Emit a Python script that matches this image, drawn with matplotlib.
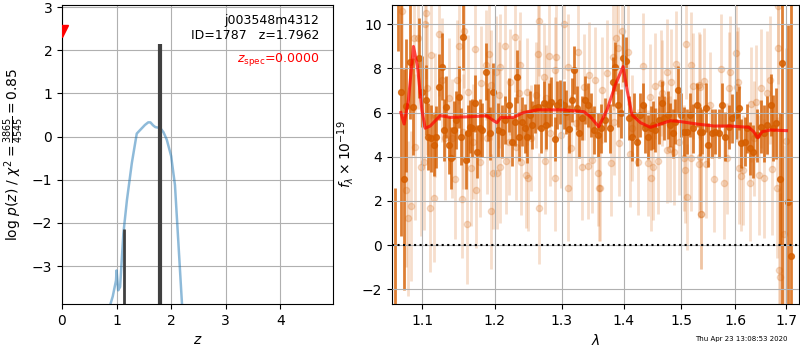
import matplotlib
matplotlib.use("Agg")
import matplotlib.pyplot as plt
from matplotlib.ticker import FixedLocator, FixedFormatter, NullLocator

# ---- left panel: p(z) ----
pz_z = [0.89, 0.93, 0.99, 1.00, 1.03, 1.065, 1.125, 1.19, 1.28, 1.37, 1.43, 1.52, 1.58,
        1.62, 1.67, 1.71, 1.80, 1.86, 1.92, 2.00, 2.07, 2.13, 2.20]
pz_logp = [-3.87, -3.70, -3.33, -3.10, -3.56, -3.48, -2.24, -1.47, -0.61, 0.07, 0.15, 0.27, 0.33,
           0.33, 0.26, 0.22, 0.20, 0.10, -0.07, -0.45, -1.12, -2.40, -3.90]
peak_z = [1.13, 1.79]
peak_logp = [-2.15, 2.15]
zspec = 0.0
zspec_mark = 2.45

# ---- right panel: spectrum ----
# dark (high S/N) points: wavelength [um], flux, error
dk_wave = [1.0646, 1.0688, 1.0730, 1.0762, 1.0795, 1.0847, 1.0878, 1.0956, 1.1000, 1.1044,
           1.1079, 1.1123, 1.1155, 1.1189, 1.1230, 1.1265, 1.1296, 1.1322, 1.1356, 1.1391,
           1.1423, 1.1454, 1.1490, 1.1526, 1.1557, 1.1589, 1.1616, 1.1647, 1.1680, 1.1717,
           1.1744, 1.1785, 1.1822, 1.1868, 1.1901, 1.1933, 1.1971, 1.2044, 1.2100, 1.2150,
           1.2198, 1.2247, 1.2286, 1.2321, 1.2355, 1.2394, 1.2433, 1.2470, 1.2509, 1.2545,
           1.2584, 1.2633, 1.2674, 1.2721, 1.2761, 1.2796, 1.2838, 1.2889, 1.2930, 1.2977,
           1.3028, 1.3072, 1.3117, 1.3159, 1.3190, 1.3231, 1.3273, 1.3319, 1.3362, 1.3417,
           1.3464, 1.3516, 1.3575, 1.3625, 1.3691, 1.3772, 1.3817, 1.3855, 1.3898, 1.3954,
           1.3991, 1.4030, 1.4090, 1.4135, 1.4179, 1.4219, 1.4278, 1.4324, 1.4365, 1.4408,
           1.4464, 1.4502, 1.4542, 1.4605, 1.4650, 1.4698, 1.4758, 1.4798, 1.4841, 1.4888,
           1.4937, 1.4997, 1.5054, 1.5096, 1.5159, 1.5218, 1.5279, 1.5340, 1.5377, 1.5439,
           1.5481, 1.5562, 1.5623, 1.5686, 1.5737, 1.5812, 1.5877, 1.5940, 1.6003, 1.6066,
           1.6114, 1.6177, 1.6228, 1.6280, 1.6346, 1.6425, 1.6490, 1.6555, 1.6609, 1.6688,
           1.6742, 1.6793, 1.6873, 1.6915, 1.7035, 1.7103]
dk_flux = [-3.0, 11.8, 6.92, 2.99, 6.31, 8.30, 6.27, 8.46, 6.95, 6.57,
           4.91, 4.83, 4.53, 4.91, 7.17, 8.08, 5.21, 6.27, 4.53, 3.93,
           5.21, 5.66, 6.72, 4.91, 9.44, 3.85, 5.06, 5.36, 5.29, 6.42,
           4.23, 5.29, 5.21, 7.85, 5.89, 5.06, 6.95, 5.21, 5.14, 5.66,
           6.34, 4.68, 5.59, 7.63, 4.91, 5.59, 5.29, 4.91, 5.89, 5.44,
           6.19, 6.27, 5.29, 6.42, 5.44, 6.34, 6.49, 4.80, 6.34, 6.49,
           6.34, 6.04, 5.26, 6.57, 7.93, 6.19, 5.06, 5.74, 6.57, 6.34,
           5.89, 5.21, 4.98, 5.29, 5.66, 5.29, 7.40, 8.08, 6.34, 5.97,
           8.46, 8.31, 5.74, 4.91, 5.89, 4.68, 5.89, 6.34, 5.29, 4.91,
           5.29, 5.44, 5.21, 5.66, 6.42, 5.74, 5.89, 5.44, 5.06, 5.59,
           7.02, 5.89, 5.14, 5.14, 5.89, 5.29, 6.34, 5.14, 5.14, 6.22,
           4.53, 5.06, 5.14, 5.06, 6.34, 4.91, 5.36, 5.74, 5.89, 6.22,
           4.61, 4.68, 5.29, 4.38, 4.23, 4.98, 5.36, 5.06, 5.44, 6.34,
           5.29, 5.51, 2.99, 8.23, 1.96, -0.48]
dk_err = [5.6, 3.0, 6.5, 5.0, 3.0, 2.6, 2.2, 1.8, 1.6, 1.6,
          1.5, 1.5, 1.4, 1.4, 1.5, 1.5, 1.4, 1.4, 1.3, 1.4,
          1.3, 1.3, 1.4, 1.3, 1.5, 1.3, 1.3, 1.2, 1.3, 1.3,
          1.2, 1.3, 1.2, 1.3, 1.2, 1.2, 1.3, 1.2, 1.2, 1.1,
          1.2, 1.1, 1.1, 1.2, 1.1, 1.1, 1.1, 1.2, 1.1, 1.1,
          1.1, 1.0, 1.1, 1.0, 1.1, 1.0, 1.1, 1.0, 1.1, 1.0,
          1.1, 1.0, 1.1, 1.0, 1.1, 1.0, 1.1, 1.0, 1.1, 1.0,
          1.0, 1.1, 1.0, 1.1, 1.0, 1.1, 1.1, 1.1, 1.0, 1.1,
          1.1, 1.1, 1.0, 1.1, 1.0, 1.1, 1.0, 1.0, 1.1, 1.0,
          1.0, 1.1, 1.0, 1.1, 1.0, 1.0, 1.1, 1.0, 1.1, 1.0,
          1.1, 1.0, 1.1, 1.0, 1.0, 1.1, 1.0, 1.1, 1.0, 1.1,
          1.0, 1.1, 1.0, 1.1, 1.0, 1.1, 1.0, 1.1, 1.1, 1.0,
          1.1, 1.1, 1.1, 1.2, 1.2, 1.2, 1.2, 1.3, 1.3, 1.4,
          1.5, 1.6, 3.0, 11.0, 8.0, 12.0]

# faint (low S/N) points
lt_wave = [1.0740, 1.0791, 1.0817, 1.0860, 1.0891, 1.0912, 1.0947, 1.0991, 1.1022, 1.1035,
           1.1044, 1.1066, 1.1110, 1.1123, 1.1155, 1.1176, 1.1221, 1.1265, 1.1310, 1.1363,
           1.1400, 1.1436, 1.1468, 1.1499, 1.1543, 1.1557, 1.1570, 1.1605, 1.1626, 1.1659,
           1.1694, 1.1722, 1.1736, 1.1785, 1.1800, 1.1868, 1.1892, 1.1910, 1.1937, 1.1947,
           1.1971, 1.2019, 1.2029, 1.2052, 1.2072, 1.2077, 1.2150, 1.2155, 1.2197, 1.2223,
           1.2296, 1.2300, 1.2344, 1.2370, 1.2384, 1.2455, 1.2470, 1.2480, 1.2535, 1.2605,
           1.2633, 1.2644, 1.2654, 1.2721, 1.2746, 1.2756, 1.2796, 1.2823, 1.2889, 1.2900,
           1.2910, 1.2992, 1.3028, 1.3092, 1.3100, 1.3148, 1.3219, 1.3262, 1.3319, 1.3346,
           1.3417, 1.3427, 1.3481, 1.3532, 1.3581, 1.3586, 1.3608, 1.3646, 1.3717, 1.3789,
           1.3827, 1.3830, 1.3866, 1.3907, 1.3915, 1.3976, 1.4069, 1.4109, 1.4135, 1.4236,
           1.4334, 1.4408, 1.4450, 1.4464, 1.4502, 1.4542, 1.4590, 1.4641, 1.4650, 1.4735,
           1.4740, 1.4798, 1.4816, 1.4876, 1.4897, 1.4949, 1.5054, 1.5060, 1.5077, 1.5096,
           1.5175, 1.5180, 1.5218, 1.5310, 1.5322, 1.5340, 1.5346, 1.5352, 1.5358, 1.5420,
           1.5457, 1.5531, 1.5593, 1.5731, 1.5781, 1.5846, 1.5877, 1.5895, 1.6003, 1.6035,
           1.6046, 1.6066, 1.6114, 1.6152, 1.6280, 1.6293, 1.6358, 1.6391, 1.6457, 1.6490,
           1.6555, 1.6609, 1.6674, 1.6721, 1.6825, 1.6832, 1.6840, 1.6853, 1.6873, 1.6968,
           1.7009]
lt_flux = [10.6, 2.49, 1.21, 1.77, 9.36, 4.45, 9.36, 3.52, 3.77, 10.0,
           10.5, 7.10, 1.69, 8.61, 2.14, 5.89, 9.55, 7.48, 4.83, 6.65,
           4.83, 2.99, 7.48, 8.99, 2.11, 5.14, 9.70, 0.95, 6.92, 3.47,
           4.68, 8.88, 2.49, 3.77, 7.32, 8.16, 4.83, 8.64, 1.54, 7.25,
           3.25, 7.85, 3.25, 6.80, 3.52, 8.08, 9.02, 3.82, 4.68, 7.37,
           9.41, 4.45, 6.87, 8.16, 3.77, 3.17, 6.95, 3.02, 4.83, 6.80,
           8.64, 1.66, 10.15, 7.63, 3.82, 6.65, 8.58, 5.06, 3.06, 7.93,
           8.50, 4.98, 10.01, 8.08, 2.60, 4.38, 5.51, 8.76, 3.52, 7.17,
           3.59, 7.70, 3.85, 7.48, 3.25, 2.57, 2.57, 7.02, 7.78, 3.73,
           8.53, 5.59, 9.36, 8.91, 4.61, 9.67, 8.76, 4.11, 5.29, 3.77,
           8.11, 3.70, 6.72, 3.02, 3.52, 7.22, 3.80, 7.32, 6.87, 7.85,
           4.30, 4.35, 7.37, 4.23, 8.19, 4.68, 3.93, 3.40, 9.11, 2.16,
           8.16, 3.96, 7.21, 7.25, 3.65, 4.00, 7.17, 1.43, 1.43, 7.43,
           3.65, 6.34, 2.99, 7.96, 2.79, 3.93, 7.13, 7.85, 8.68, 7.17,
           7.37, 3.47, 3.14, 3.40, 2.79, 6.37, 4.83, 6.46, 3.17, 7.10,
           3.02, 6.87, 7.48, 3.44, 2.60, 10.8, 8.91, -1.13, -1.44, 0.51,
           4.71]
lt_err = [3.6, 3.5, 3.5, 3.4, 3.3, 3.3, 3.2, 3.1, 3.1, 3.0,
          3.0, 3.0, 2.9, 2.9, 2.9, 2.8, 2.8, 2.8, 2.8, 2.7,
          2.7, 2.7, 2.7, 2.6, 2.7, 2.6, 2.6, 2.7, 2.6, 2.6,
          2.6, 2.6, 2.6, 2.5, 2.6, 2.5, 2.5, 2.6, 2.6, 2.5,
          2.5, 2.5, 2.5, 2.4, 2.5, 2.4, 2.5, 2.4, 2.4, 2.4,
          2.5, 2.4, 2.4, 2.4, 2.4, 2.4, 2.4, 2.4, 2.4, 2.4,
          2.4, 2.5, 2.5, 2.4, 2.4, 2.4, 2.4, 2.4, 2.4, 2.4,
          2.4, 2.4, 2.5, 2.4, 2.4, 2.4, 2.4, 2.4, 2.4, 2.4,
          2.4, 2.4, 2.4, 2.4, 2.4, 2.4, 2.4, 2.4, 2.4, 2.4,
          2.4, 2.4, 2.5, 2.5, 2.4, 2.5, 2.4, 2.4, 2.4, 2.4,
          2.4, 2.4, 2.4, 2.4, 2.4, 2.4, 2.4, 2.4, 2.4, 2.4,
          2.4, 2.4, 2.4, 2.4, 2.4, 2.4, 2.4, 2.4, 2.5, 2.4,
          2.4, 2.4, 2.4, 2.4, 2.4, 2.4, 2.4, 2.5, 2.5, 2.4,
          2.4, 2.4, 2.4, 2.5, 2.5, 2.5, 2.5, 2.5, 2.5, 2.5,
          2.5, 2.5, 2.5, 2.5, 2.6, 2.6, 2.6, 2.6, 2.7, 2.7,
          2.7, 2.8, 2.9, 3.0, 3.2, 3.5, 3.5, 3.7, 3.8, 4.0,
          4.2]

# best-fit model
mod_wave = [1.0723, 1.0765, 1.0821, 1.0886, 1.0939, 1.0996, 1.1040, 1.1106, 1.1240, 1.1375,
            1.1651, 1.1886, 1.1981, 1.2029, 1.2086, 1.2272, 1.2419, 1.2619, 1.3028, 1.3346,
            1.3452, 1.3586, 1.3723, 1.3860, 1.3989, 1.4056, 1.4140, 1.4283, 1.4455, 1.4628,
            1.4803, 1.4980, 1.5285, 1.5593, 1.5908, 1.6260, 1.6357, 1.6436, 1.6520, 1.6686,
            1.7009]
mod_flux = [6.00, 5.48, 6.57, 8.99, 8.08, 6.12, 5.29, 5.39, 5.86, 5.78,
            5.81, 5.85, 5.63, 5.54, 5.78, 5.78, 6.00, 6.12, 6.12, 6.04,
            5.81, 5.36, 6.12, 7.25, 8.08, 7.02, 5.89, 5.54, 5.33, 5.48,
            5.63, 5.59, 5.48, 5.39, 5.39, 5.33, 5.13, 4.86, 5.13, 5.21,
            5.18]

wave_ticks = [1.1, 1.2, 1.3, 1.4, 1.5, 1.6, 1.7]
G141 = (0.8352941, 0.3686274, 0.0)

fig = plt.figure(figsize=(8, 3.5), dpi=100)
ax1 = fig.add_axes([0.0775, 0.131, 0.339, 0.855])
ax2 = fig.add_axes([0.49, 0.131, 0.509, 0.855])

# p(z)
ax1.plot(pz_z, pz_logp, color="#1f77b4", alpha=0.5, lw=1.8)
ax1.vlines(peak_z[0], -4, peak_logp[0], color="0.25", lw=2)
ax1.vlines(peak_z[1], -4, peak_logp[1], color="0.25", lw=3)
ax1.plot([zspec], [zspec_mark], marker="v", color="r", ms=9, ls="none", zorder=5)
ax1.set_xlim(0, 4.97)
ax1.set_ylim(-3.88, 3.05)
ax1.set_xticks([0, 1, 2, 3, 4])
ax1.set_yticks([-3, -2, -1, 0, 1, 2, 3])
ax1.grid(True)
ax1.set_xlabel("$z$")
ax1.set_ylabel(r"log $p(z)$ / $\chi^2=\frac{3865}{4545}=0.85$")
ax1.text(0.95, 0.97, "j003548m4312\nID=1787   z=1.7962", transform=ax1.transAxes,
         ha="right", va="top", fontsize=9)
ax1.text(0.95, 0.845, r"$z_\mathrm{spec}$=0.0000", transform=ax1.transAxes,
         ha="right", va="top", fontsize=9, color="r")

# spectrum
ax2.errorbar(lt_wave, lt_flux, lt_err, color=G141, alpha=0.2, marker="o", ms=4.5,
             ls="none", elinewidth=2)
ax2.errorbar(dk_wave, dk_flux, dk_err, color=G141, alpha=0.8, marker="o", ms=4.2,
             ls="none", elinewidth=2)
ax2.plot(mod_wave, mod_flux, color="r", alpha=0.7, lw=2.2, zorder=4)
ax2.axhline(0, color="k", ls=":", lw=1.5, zorder=3)
ax2.set_xscale("log")
ax2.xaxis.set_major_locator(FixedLocator(wave_ticks))
ax2.xaxis.set_major_formatter(FixedFormatter([f"{w:.1f}" for w in wave_ticks]))
ax2.xaxis.set_minor_locator(NullLocator())
ax2.set_xlim(1.061, 1.727)
ax2.set_ylim(-2.67, 10.87)
ax2.set_axisbelow(False)
ax2.grid(True)
ax2.set_xlabel(r"$\lambda$")
ax2.set_ylabel(r"$f_\lambda\times10^{-19}$")

fig.text(0.985, 0.022, "Thu Apr 23 13:08:53 2020", ha="right", va="bottom", fontsize=5)

fig.savefig("out.png", dpi=100)
